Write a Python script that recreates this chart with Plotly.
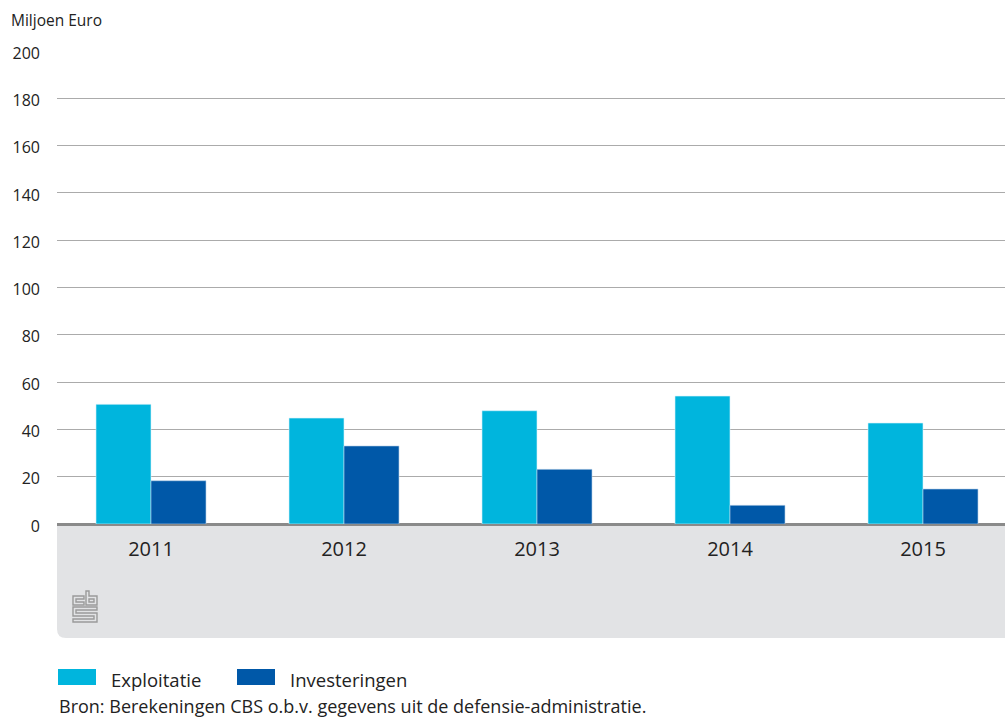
import plotly.graph_objects as go

years = ["2011", "2012", "2013", "2014", "2015"]
exploitatie = [50.6, 44.8, 47.9, 54.1, 42.7]
investeringen = [18.3, 33.0, 23.1, 7.9, 14.8]
y_ticks = [0, 20, 40, 60, 80, 100, 120, 140, 160, 180, 200]

W, H = 1005, 718
L, R, T, B = 57, 1005, 51, 524  # plot area in pixels

def px(x):
    return (x - L) / (R - L)

def py(y):
    return (B - y) / (B - T)

FONT = "Open Sans"
TXT = "#222222"
C1 = "#00b5dd"
C2 = "#0058a8"

fig = go.Figure()
fig.add_trace(go.Bar(x=years, y=exploitatie, name="Exploitatie", marker_color=C1,
                     marker_line_width=0.6, marker_line_color="#d8f2fa"))
fig.add_trace(go.Bar(x=years, y=investeringen, name="Investeringen", marker_color=C2,
                     marker_line_width=0.6, marker_line_color="#bcd3ea"))

shapes = []
# grey band under the axis with rounded bottom-left corner
x0, x1 = px(57), px(1005)
y0, y1 = py(525), py(638)
rx = 9 / (R - L)
ry = 9 / (B - T)
shapes.append(dict(type="path", xref="paper", yref="paper", layer="below",
                   path=f"M {x0},{y0} L {x1},{y0} L {x1},{y1} L {x0+rx},{y1} Q {x0},{y1} {x0},{y1+ry} Z",
                   fillcolor="#e2e3e5", line_width=0))

# cbs logo (outline)
def pth(points):
    return "M " + " L ".join(f"{px(a)},{py(b)}" for a, b in points) + " Z"

logo_paths = [
    [(84, 596), (73, 596), (73, 605), (84, 605), (84, 602), (76, 602), (76, 599), (84, 599)],
    [(86, 591), (89, 591), (89, 596), (97, 596), (97, 605), (86, 605)],
    [(89, 599), (94, 599), (94, 602), (89, 602)],
    [(97, 607), (73, 607), (73, 616), (94, 616), (94, 619), (73, 619), (73, 622), (97, 622),
     (97, 613), (76, 613), (76, 610), (97, 610)],
]
for p in logo_paths:
    shapes.append(dict(type="path", xref="paper", yref="paper", path=pth(p),
                       line=dict(color="#9a9a9a", width=1.4), fillcolor="rgba(0,0,0,0)"))

# legend boxes
shapes.append(dict(type="rect", xref="paper", yref="paper", x0=px(58), x1=px(96), y0=py(669), y1=py(685),
                   fillcolor=C1, line_width=0))
shapes.append(dict(type="rect", xref="paper", yref="paper", x0=px(237), x1=px(275), y0=py(669), y1=py(685),
                   fillcolor=C2, line_width=0))

annotations = [
    dict(text="Miljoen Euro", x=px(9), y=py(20), xref="paper", yref="paper", xanchor="left",
         yanchor="middle", showarrow=False, font=dict(family=FONT, size=15.5, color=TXT)),
    dict(text="Exploitatie", x=px(109), y=py(679), xref="paper", yref="paper", xanchor="left",
         yanchor="middle", showarrow=False, font=dict(family=FONT, size=18.5, color=TXT)),
    dict(text="Investeringen", x=px(288), y=py(679), xref="paper", yref="paper", xanchor="left",
         yanchor="middle", showarrow=False, font=dict(family=FONT, size=18.5, color=TXT)),
    dict(text="Bron: Berekeningen CBS o.b.v. gegevens uit de defensie-administratie.", x=px(57), y=py(706),
         xref="paper", yref="paper", xanchor="left", yanchor="middle", showarrow=False,
         font=dict(family=FONT, size=18, color=TXT)),
]

fig.update_layout(
    width=W, height=H,
    margin=dict(l=L, r=W - R, t=T, b=H - B, pad=0),
    paper_bgcolor="white", plot_bgcolor="white",
    barmode="group", bargap=0.43, bargroupgap=0,
    showlegend=False,
    font=dict(family=FONT, size=16, color=TXT),
    shapes=shapes, annotations=annotations,
    xaxis=dict(type="category", range=[(L - 151) / 193, (R - 151) / 193], showgrid=False,
               showline=False, ticks="", ticklabelstandoff=11,
               tickfont=dict(family=FONT, size=20, color=TXT)),
    yaxis=dict(range=[0, 200], tickvals=y_ticks, showgrid=True, gridcolor="#ababab", gridwidth=1,
               zeroline=True, zerolinecolor="#8a8a8a", zerolinewidth=3, showline=False, ticks="",
               ticklabelstandoff=16, ticklabelshift=2, tickfont=dict(family=FONT, size=16, color=TXT)),
)

fig.write_html("out.html", config={"displayModeBar": False},
               post_script="document.body.style.margin='0';document.body.style.overflow='hidden';")
